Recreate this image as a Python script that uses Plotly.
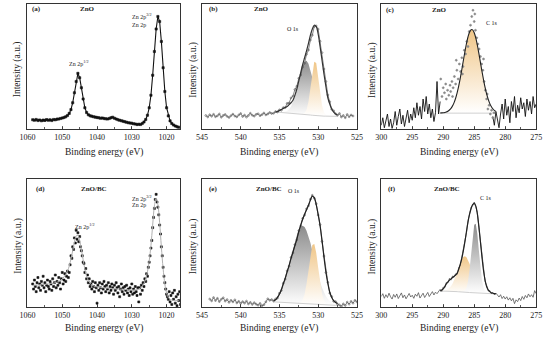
import numpy as np
import plotly.graph_objects as go

FONT = "Liberation Serif, Times New Roman, serif"

# ---------------- (a) ZnO, Zn 2p ----------------
a_energy = np.arange(1058.5, 1016.4, -0.5)
a_intensity = [7.4, 7.0, 7.6, 6.8, 7.2, 6.6, 7.1, 6.9, 7.5, 7.0,
               7.3, 6.8, 7.6, 7.4, 7.9, 8.0, 8.4, 8.8, 9.2, 9.8,
               10.8, 12.5, 15.5, 21, 29, 38, 44.5, 41, 33, 24,
               17, 13.2, 11.4, 10.6, 10.2, 9.8, 9.5, 9.2, 9.0, 8.6,
               8.8, 8.4, 8.2, 8.0, 8.4, 9.0, 9.4, 8.6, 8.0, 7.4,
               7.0, 6.6, 6.2, 5.8, 5.4, 5.0, 4.8, 4.6, 4.2, 4.0,
               3.6, 3.8, 3.6, 4.4, 5.6, 7.6, 11, 17, 27, 43,
               62, 80, 90, 86, 70, 49, 30, 17, 10.5, 6.5,
               4.4, 3.2, 2.4, 1.8, 1.4]

# ---------------- (d) ZnO/BC, Zn 2p ----------------
d_fit_energy = np.arange(1058.5, 1016.4, -0.5)
d_fit = [17, 17, 17.2, 17.2, 17.4, 17.4, 17.6, 17.6, 17.8, 18,
         18.2, 18.4, 18.6, 19, 19.4, 20, 20.8, 22, 23.5, 25.5,
         28, 32, 37.5, 44, 51, 55.5, 56, 52, 45, 37,
         29.5, 24, 20.5, 18.5, 17.2, 16.5, 16, 15.7, 15.5, 15.3,
         15.1, 15, 14.8, 14.7, 14.6, 14.5, 14.4, 14.3, 14.2, 14.1,
         14, 13.9, 13.8, 13.7, 13.6, 13.5, 13.4, 13.3, 13.3, 13.4,
         13.6, 14, 14.8, 16.2, 18.5, 22, 27.5, 36, 48, 64,
         79, 85, 80, 66, 47, 30, 18, 11, 7.5, 6,
         5.5, 5.2, 5, 5, 5]
d_dot_energy = np.arange(1058.5, 1015.4, -0.25)
d_dots = [18, 14, 21, 16, 12, 19, 23, 15, 18, 13,
          20, 17, 24, 15, 19, 12, 17, 21, 16, 14,
          20, 18, 13, 22, 16, 19, 25, 15, 20, 17,
          23, 19, 14, 22, 27, 18, 21, 26, 20, 24,
          28, 23, 27,
          33, 40, 38, 47, 45, 54, 50, 60, 53, 58,
          51, 55, 47, 44, 40, 35, 34, 27, 30, 22,
          25, 19, 22, 16,
          18, 14, 20, 16, 12, 19, 15, 3, 17, 13,
          19, 15, 11, 18, 14, 20, 16, 12, 17, 14,
          19, 11, 16, 13, 18, 15, 10, 17, 13, 19,
          15, 11, 16, 8, 14, 18, 12, 15, 10, 16,
          13, 17, 11, 14, 9, 15, 12, 18, 10, 14,
          11, 16, 12, 9, 15, 4,
          15, 10, 17, 13, 19, 16, 22, 20, 26, 24,
          31, 35, 40, 46, 52, 62, 70, 77, 84, 88,
          82, 78, 72, 64, 57, 47, 40, 31, 24, 19,
          14, 10, 8, 6,
          12, 4, 9, 2, 11, 6, 13, 3, 8, 1,
          10, 5, 12, 2, 7, 11]

# ---------------- (b) ZnO, O 1s ----------------
b_raw_energy = np.arange(544.5, 525.4, -0.25)
b_raw = [10.8, 9.6, 11.4, 10.2, 11.8, 9.8, 10.6, 12.0, 9.4, 10.9,
         11.6, 10.1, 9.2, 10.7, 11.9, 10.4, 9.7, 11.2, 12.4, 10.0,
         11.1, 9.5, 10.8, 12.6, 11.0, 10.3, 11.7, 12.2, 10.6, 11.5,
         12.8, 11.3, 12.0, 13.2, 12.4,
         12.6, 14.0, 13.6, 15.3, 15.0, 17.1, 17.2, 20.5, 20.8, 24.9,
         26.3, 31.6, 34.2, 40.6, 43.2, 49.5, 52.6, 59.8, 63.2, 71.2,
         75.1, 82.0, 82.4, 79.9, 70.2, 61.1, 48.0, 38.0, 27.3, 21.8,
         15.8, 14.6,
         12.2, 11.0, 12.4, 9.6, 10.8, 9.0, 11.6, 9.8, 11.2, 10.4]
b_fit_energy = np.arange(535.5, 527.4, -0.25)
b_envelope = [13.5, 14, 14.8, 15.6, 16.4, 17.2, 18, 19.5, 21, 23,
              27, 32, 38.5, 45, 51.5, 57, 62.5, 68.5, 75, 80,
              83, 82, 76, 66, 55, 44, 34, 25, 20, 16,
              13.5, 12, 11.2]
b_background = [13.6, 13.5, 13.4, 13.3, 13.2, 13.1, 13.0, 12.9, 12.8, 12.7,
                12.6, 12.5, 12.3, 12.2, 12.0, 11.8, 11.6, 11.4, 11.2, 11.0,
                10.8, 10.7, 10.6, 10.5, 10.4, 10.3, 10.3, 10.2, 10.2, 10.2,
                10.1, 10.1, 10.1]
b_gray_peak = [0, 0, 0.05, 0.15, 0.35, 0.76, 1.5, 2.9, 5.2, 8.7,
               13.4, 19.4, 26.1, 32.8, 38.4, 42.1, 43, 40.9, 36.4, 30.2,
               23.3, 16.9, 11.4, 7.1, 4.2, 2.3, 1.2, 0.6, 0.25, 0.1,
               0, 0, 0]
b_orange_peak = [0, 0, 0, 0, 0, 0, 0, 0, 0, 0,
                 0, 0, 0, 0, 0.26, 1.1, 3.9, 10.4, 21.4, 34.4,
                 43.1, 42.1, 32, 18.9, 8.7, 3.1, 0.9, 0.2, 0, 0,
                 0, 0, 0]

# ---------------- (c) ZnO, C 1s ----------------
c_left_energy = np.arange(300, 290.4, -0.25)
c_left = [3, 9, 1, 6, 12, 2, 8, 0.5, 5, 14,
          3, 10, 16, 4, 11, 2, 9, 15, 5, 12,
          7, 17, 9, 21, 11, 18, 8, 24, 14, 26,
          12, 20, 9, 16, 6, 13, 38, 12, 22]
c_right_energy = np.arange(282, 274.9, -0.25)
c_right = [10, 3, 14, 6, 1, 12, 20, 8, 24, 11,
           18, 5, 22, 14, 26, 9, 19, 13, 25, 16,
           21, 10, 24, 15, 22, 12, 26, 17, 20]
c_dot_energy = [290.4, 290.2, 290.0, 289.8, 289.6, 289.5, 289.3, 289.1, 288.9, 288.8,
                288.6, 288.4, 288.2, 288.0, 287.8, 287.6, 287.4, 287.2, 287.0, 286.8,
                286.6, 286.4, 286.2, 286.0, 285.8, 285.6, 285.4, 285.2, 285.0, 284.8,
                284.6, 284.4, 284.2, 284.0, 283.8, 283.6, 283.4, 283.2, 283.0, 282.8,
                282.6, 282.4, 282.2, 282.0, 281.8, 288.5, 287.9, 286.9, 284.9, 283.5,
                282.9]
c_dots = [40, 26, 33, 29, 36, 24, 31, 27, 35, 30,
          38, 33, 42, 36, 47, 40, 52, 46, 57, 50,
          63, 60, 70, 66, 78, 83, 90, 95, 86, 79,
          73, 68, 64, 58, 52, 47, 38, 31, 24, 16,
          19, 12, 15, 9, 13, 26, 55, 44, 92, 56,
          28]
c_fit_energy = np.arange(290.5, 281.4, -0.25)
c_background_level = 12.7
c_peak = [0.09, 0.17, 0.30, 0.54, 0.92, 1.5, 2.5, 3.8, 5.8, 8.4,
          11.9, 16.4, 21.8, 28, 34.9, 42.1, 49.2, 55.7, 61.1, 64.9,
          66.8, 66.6, 64.3, 60.2, 54.5, 47.8, 40.6, 33.4, 26.7, 20.6,
          15.4, 11.2, 7.8, 5.3, 3.5, 2.2, 1.4]

# ---------------- (e) ZnO/BC, O 1s ----------------
e_raw_energy = np.arange(544, 524.9, -0.25)
e_raw = [6.2, 4.8, 7.4, 5.0, 6.8, 4.2, 6.0, 7.2, 4.6, 5.8,
         3.6, 5.2, 4.0, 5.6, 3.2, 4.4, 2.8, 4.2, 3.0, 4.6,
         2.4, 3.6, 2.0, 3.4, 2.2, 1.4, 2.8, 1.0, 1.8, 4.0,
         6.4, 5.2, 5.8,
         4.6, 6.2, 7.0, 10.8, 12.9, 18.6, 21.8, 28.3, 31.9, 38.8,
         42.2, 48.7, 52.4, 59.6, 63.3, 69.2, 71.8, 76.7, 79.0, 84.2,
         87.3, 85.0, 80.6, 71.8, 64.3, 51.2, 39.8, 26.9, 19.3, 10.8,
         8.2, 4.4, 4.2, 2.2,
         1.6, 0.6, 2.4, 1.2, 3.8, 2.2, 4.4, 3.0, 5.2, 4.0]
e_fit_energy = np.arange(535.75, 527.4, -0.25)
e_envelope = [5.0, 5.6, 7.5, 10, 13.5, 18, 22.5, 27.5, 32.5, 38,
              43, 48, 53, 59, 64, 68.5, 72.5, 76, 79.5, 83.5,
              86.5, 85.5, 80, 72.5, 63.5, 52, 39, 27.5, 18.5, 11.5,
              7.5, 5, 3.6, 2.8]
e_background = [4.0, 3.9, 3.8, 3.7, 3.6, 3.5, 3.4, 3.3, 3.2, 3.1,
                3.0, 2.9, 2.8, 2.7, 2.6, 2.5, 2.4, 2.3, 2.2, 2.1,
                2.0, 1.9, 1.8, 1.7, 1.6, 1.5, 1.5, 1.4, 1.4, 1.4,
                1.3, 1.3, 1.3, 1.3]
e_gray_peak = [2.1, 3.2, 4.8, 7.0, 9.9, 13.5, 18.0, 23.3, 29.2, 35.5,
               41.9, 48.0, 53.2, 57.3, 60.1, 61, 60.1, 57.3, 53.2, 48.0,
               41.9, 35.5, 29.2, 23.3, 18.0, 13.5, 9.9, 7.0, 4.8, 3.2,
               2.1, 1.3, 0.8, 0.45]
e_orange_peak = [0, 0, 0, 0, 0, 0, 0, 0, 0, 0,
                 0, 0, 0, 0.3, 1.1, 3.2, 7.6, 15.6, 26.7, 38.4,
                 46.5, 47.3, 40.5, 29.1, 17.6, 8.9, 3.8, 1.4, 0.4, 0.1,
                 0, 0, 0, 0]

# ---------------- (f) ZnO/BC, C 1s ----------------
f_raw_energy = np.arange(300, 274.9, -0.25)
f_raw = [8.2, 10.4, 6.8, 9.6, 7.4, 10.8, 8.0, 6.2, 9.8, 7.6,
         10.2, 6.6, 8.8, 11.0, 7.2, 9.4, 6.4, 8.6, 10.6, 7.8,
         9.2, 6.8, 10.0, 8.4, 11.2, 7.0, 9.0, 10.8, 7.4, 9.6,
         11.4, 8.2, 10.2, 12.0, 9.4, 11.6, 10.4, 12.6,
         13.8, 12.2, 15.6, 15.0, 19.2, 18.8, 22.4, 21.0, 24.2, 23.2,
         26.0, 25.6, 30.8, 32.6, 39.2, 43.0, 52.2, 58.1, 67.4, 71.6,
         77.9, 79.2, 82.0, 78.3, 73.8, 62.2, 51.9, 38.1, 29.4, 20.1,
         16.9, 12.6, 12.9, 10.4, 11.5, 9.6, 10.9,
         9.2, 7.8, 9.6, 6.6, 8.4, 6.2, 8.0, 5.4, 7.2, 4.8,
         6.8, 2.6, 5.6, 4.2, 7.0, 5.0, 8.2, 6.0, 9.0, 7.2,
         10.2, 8.0, 9.6, 7.6, 12.8, 10.4]
f_fit_energy = np.arange(290.5, 281.4, -0.25)
f_envelope = [12.5, 13.2, 14.2, 16, 18, 19.6, 21, 22, 23, 24,
              25, 26.5, 29.5, 33.5, 38, 44, 51, 59, 66.5, 72.5,
              77, 80, 81, 79, 73, 63, 51, 39, 28.5, 21,
              16, 13.5, 12, 11.2, 10.7, 10.4, 10.2]
f_background = [12.5, 12.5, 12.4, 12.4, 12.3, 12.3, 12.2, 12.2, 12.1, 12.1,
                12.0, 12.0, 11.9, 11.9, 11.8, 11.7, 11.6, 11.5, 11.4, 11.3,
                11.2, 11.1, 11.0, 10.9, 10.8, 10.8, 10.7, 10.7, 10.6, 10.6,
                10.5, 10.5, 10.4, 10.4, 10.4, 10.3, 10.3]
f_orange_peak = [0.06, 0.13, 0.25, 0.48, 0.88, 1.5, 2.5, 4.0, 6.0, 8.6,
                 11.8, 15.4, 19.1, 22.5, 25.4, 27.3, 28, 27.3, 25.4, 22.5,
                 19.1, 15.4, 11.8, 8.6, 6.0, 4.0, 2.5, 1.5, 0.88, 0.48,
                 0.25, 0.13, 0.06, 0, 0, 0, 0]
f_gray_peak = [0, 0, 0, 0, 0, 0, 0, 0, 0, 0,
               0, 0, 0, 0, 0.1, 0.4, 1.3, 3.6, 8.8, 17.9,
               30.6, 44.1, 53.3, 54.2, 46.4, 33.4, 20.2, 10.2, 4.4, 1.6,
               0.5, 0.1, 0, 0, 0, 0, 0]

# tick labels
a_ticks = [1060, 1050, 1040, 1030, 1020]
b_ticks = [545, 540, 535, 530, 525]
c_ticks = [300, 295, 290, 285, 280, 275]

# ---------------------------------------------------------------
GRAY_TOP = "rgb(140,140,140)"
ORANGE_TOP = "rgb(240,198,135)"


def pair(x, y):
    n = min(len(x), len(y))
    return np.asarray(x, float)[:n], np.asarray(y, float)[:n]


def band(x, base, comp, thr=0.05):
    x, base = pair(x, base)
    x, comp = pair(x, comp)
    n = min(len(x), len(base), len(comp))
    x, base, comp = x[:n], base[:n], comp[:n]
    idx = np.where(comp > thr)[0]
    lo, hi = idx[0], idx[-1] + 1
    top = base + comp
    xs = np.concatenate([x[lo:hi], x[lo:hi][::-1]])
    ys = np.concatenate([top[lo:hi], base[lo:hi][::-1]])
    return xs, ys, base[lo:hi].min(), top[lo:hi].max()


fig = go.Figure()


def add_line(ax, x, y, color, width, shape="linear", mode="lines", msize=2, msym="circle", mcolor=None):
    x, y = pair(x, y)
    fig.add_trace(go.Scatter(
        x=x, y=y, mode=mode, xaxis="x" + ax, yaxis="y" + ax,
        line=dict(color=color, width=width, shape=shape),
        marker=dict(size=msize, symbol=msym, color=mcolor or color,
                    line=dict(width=0.6, color=mcolor or color)),
        hoverinfo="skip", showlegend=False))


def add_fill(ax, x, base, comp, topcolor):
    xs, ys, lo, hi = band(x, base, comp)
    fig.add_trace(go.Scatter(
        x=xs, y=ys, mode="lines", fill="toself", xaxis="x" + ax, yaxis="y" + ax,
        line=dict(width=0, color="rgba(0,0,0,0)"),
        fillgradient=dict(type="vertical", start=lo, stop=hi,
                          colorscale=[[0, "rgb(255,255,255)"], [1, topcolor]]),
        hoverinfo="skip", showlegend=False))


# (a)
add_line("", a_energy, a_intensity, "#111", 1.1, mode="lines+markers", msize=2.2, msym="square")
# (b)
add_fill("2", b_fit_energy, b_background, b_gray_peak, GRAY_TOP)
add_fill("2", b_fit_energy, b_background, b_orange_peak, ORANGE_TOP)
add_line("2", b_fit_energy, b_background, "#d0d0d0", 1)
add_line("2", b_raw_energy, b_raw, "#666", 0.8, mode="lines+markers", msize=1.8, msym="circle-open", mcolor="#555")
add_line("2", b_fit_energy, b_envelope, "#333", 1.2, shape="spline")
# (c)
c_bg = [c_background_level] * len(c_peak)
c_env = list(np.asarray(c_bg) + np.asarray(c_peak))
add_fill("3", c_fit_energy, c_bg, c_peak, ORANGE_TOP)
add_line("3", c_fit_energy, c_bg, "#d0d0d0", 1)
add_line("3", c_left_energy, c_left, "#111", 0.9)
add_line("3", c_right_energy, c_right, "#111", 0.9)
add_line("3", c_dot_energy, c_dots, "#888", 1, mode="markers", msize=2)
add_line("3", c_fit_energy, c_env, "#222", 1.1, shape="spline")
# (d)
add_line("4", d_dot_energy, d_dots, "#111", 1, mode="markers", msize=2.0, msym="square")
add_line("4", d_fit_energy, d_fit, "#b0b0b0", 1, shape="spline")
# (e)
add_fill("5", e_fit_energy, e_background, e_gray_peak, GRAY_TOP)
add_fill("5", e_fit_energy, e_background, e_orange_peak, ORANGE_TOP)
add_line("5", e_fit_energy, e_background, "#d0d0d0", 1)
add_line("5", e_raw_energy, e_raw, "#666", 0.8, mode="lines+markers", msize=1.8, msym="circle-open", mcolor="#555")
add_line("5", e_fit_energy, e_envelope, "#222", 1.2, shape="spline")
# (f)
add_fill("6", f_fit_energy, f_background, f_orange_peak, ORANGE_TOP)
add_fill("6", f_fit_energy, f_background, f_gray_peak, GRAY_TOP)
add_line("6", f_fit_energy, f_background, "#d0d0d0", 1)
add_line("6", f_raw_energy, f_raw, "#555", 0.8)
add_line("6", f_fit_energy, f_envelope, "#222", 1.2, shape="spline")

# --------------- axes ---------------
W, H = 550, 337
cols = [(20, 177), (199, 358), (383, 542)]
rows = [(4, 129), (179, 307)]
ranges = [[1060, 1016], [545, 525], [300, 275]]
ticks = [a_ticks, b_ticks, c_ticks]
minors = [5, 2.5, 2.5]

layout = dict(width=W, height=H, margin=dict(l=0, r=0, t=0, b=0),
              paper_bgcolor="white", plot_bgcolor="white", showlegend=False)
for r in range(2):
    for c in range(3):
        k = r * 3 + c + 1
        s = "" if k == 1 else str(k)
        x0, x1 = cols[c]
        y0, y1 = rows[r]
        layout["xaxis" + s] = dict(
            domain=[x0 / W, x1 / W], range=ranges[c], anchor="y" + s,
            showline=True, mirror=True, linecolor="#333", linewidth=1,
            ticks="inside", ticklen=3, tickwidth=0.8, tickcolor="#333",
            tickmode="array", tickvals=ticks[c],
            tickfont=dict(family=FONT, size=8, color="#222"),
            minor=dict(ticks="inside", ticklen=2, tickcolor="#333", dtick=minors[c], tick0=ranges[c][0]),
            showgrid=False, zeroline=False, fixedrange=True)
        layout["yaxis" + s] = dict(
            domain=[1 - y1 / H, 1 - y0 / H], range=[0, 100], anchor="x" + s,
            showline=True, mirror=True, linecolor="#333", linewidth=1,
            showticklabels=False, ticks="", showgrid=False, zeroline=False, fixedrange=True)

fig.update_layout(**layout)

ann = []


def txt(x, y, t, size, bold=False, xanchor="left", ref=""):
    ann.append(dict(x=x, y=y, text=("<b>%s</b>" % t) if bold else t,
                    xref="x" + ref, yref="y" + ref,
                    showarrow=False, xanchor=xanchor, yanchor="middle",
                    font=dict(family=FONT, size=size, color="#222")))


# panel labels
txt(1059.2, 95.8, "(a)", 7, True, ref="")
txt(1045.5, 95.8, "ZnO", 7, True, ref="")
txt(544.4, 95.8, "(b)", 7, True, ref="2")
txt(538.6, 95.8, "ZnO", 7, True, ref="2")
txt(299.5, 95.0, "(c)", 7, True, ref="3")
txt(292.1, 95.0, "ZnO", 7, True, ref="3")
txt(1058.1, 92, "(d)", 7, True, ref="4")
txt(1045.1, 92, "ZnO/BC", 7, True, ref="4")
txt(544.4, 92, "(e)", 7, True, ref="5")
txt(538.3, 92, "ZnO/BC", 7, True, ref="5")
txt(299.2, 92, "(f)", 7, True, ref="6")
txt(291.8, 92, "ZnO/BC", 7, True, ref="6")
# peak labels
txt(1045.3, 53, "Zn 2p<sup>1/2</sup>", 6, xanchor="center", ref="")
txt(1030.6, 90.5, "Zn 2p<sup>3/2</sup>", 6, ref="")
txt(1030.6, 83.5, "Zn 2p", 6, ref="")
txt(533.2, 80, "O 1s", 6, xanchor="center", ref="2")
txt(282.2, 85, "C 1s", 6, xanchor="center", ref="3")
txt(1043.5, 63, "Zn 2p<sup>1/2</sup>", 6, xanchor="center", ref="4")
txt(1030.6, 85.5, "Zn 2p<sup>3/2</sup>", 6, ref="4")
txt(1030.6, 79.5, "Zn 2p", 6, ref="4")
txt(533.1, 91, "O 1s", 6, xanchor="center", ref="5")
txt(283.1, 85, "C 1s", 6, xanchor="center", ref="6")

# axis titles
title_x = [(a + b) / 2 for a, b in cols]
ytitle_x = [10, 190, 374]
for r, (y0, y1) in enumerate(rows):
    ty = 152 if r == 0 else 328
    for c in range(3):
        ann.append(dict(x=title_x[c] / W, y=1 - ty / H, xref="paper", yref="paper",
                        text="Binding energy (eV)", showarrow=False,
                        xanchor="center", yanchor="middle",
                        font=dict(family=FONT, size=9.5, color="#222")))
        ann.append(dict(x=ytitle_x[c] / W, y=1 - ((y0 + y1) / 2 + 3) / H, xref="paper", yref="paper",
                        text="Intensity (a.u.)", showarrow=False, textangle=-90,
                        xanchor="center", yanchor="middle",
                        font=dict(family=FONT, size=9.5, color="#222")))

fig.update_layout(annotations=ann)
fig.write_html("out.html", config={"displayModeBar": False, "staticPlot": True},
               post_script="document.body.style.margin='0';document.body.style.padding='0';")
